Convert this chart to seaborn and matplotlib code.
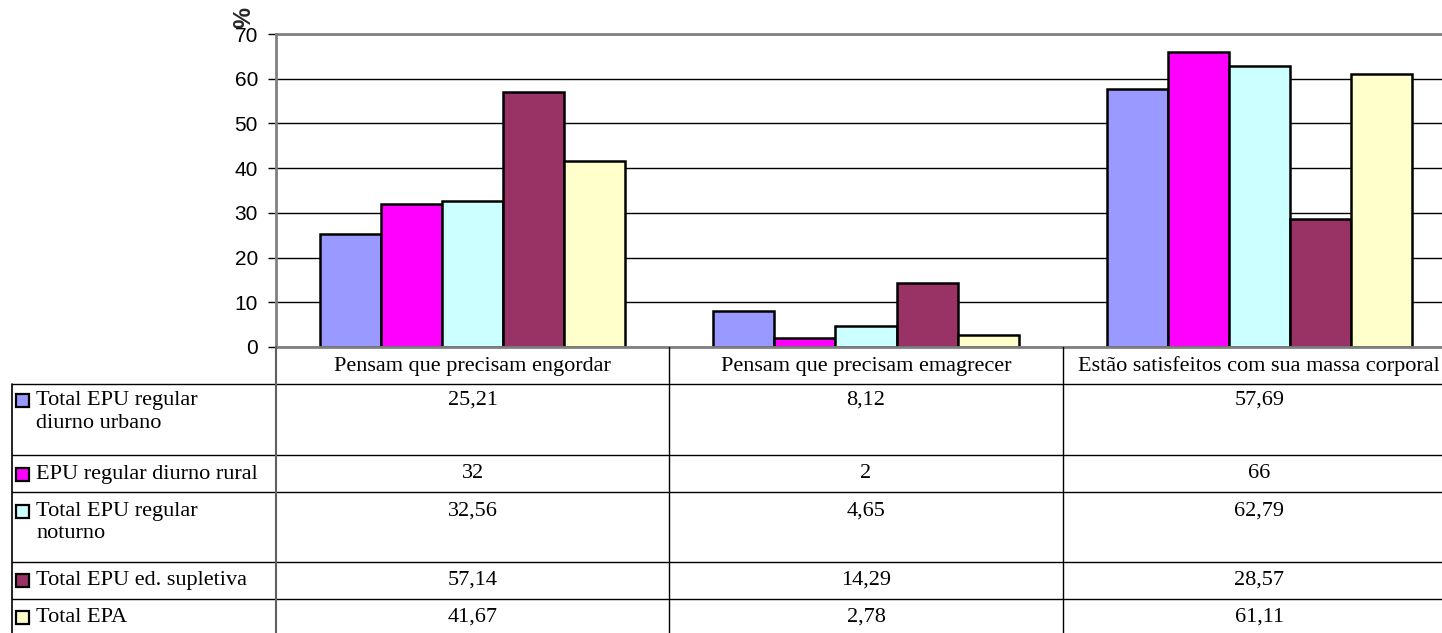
import matplotlib
matplotlib.use("Agg")
import matplotlib.pyplot as plt
import pandas as pd
import seaborn as sns
from matplotlib.patches import Rectangle

categorias = [
    "Pensam que precisam engordar",
    "Pensam que precisam emagrecer",
    "Estão satisfeitos com sua massa corporal",
]
grupos = [
    "Total EPU regular\ndiurno urbano",
    "EPU regular diurno rural",
    "Total EPU regular\nnoturno",
    "Total EPU ed. supletiva",
    "Total EPA",
]
urbano = [25.21, 8.12, 57.69]
rural = [32, 2, 66]
noturno = [32.56, 4.65, 62.79]
supletiva = [57.14, 14.29, 28.57]
epa = [41.67, 2.78, 61.11]
rotulos = [
    ["25,21", "8,12", "57,69"],
    ["32", "2", "66"],
    ["32,56", "4,65", "62,79"],
    ["57,14", "14,29", "28,57"],
    ["41,67", "2,78", "61,11"],
]
cores = ["#9999FF", "#FF00FF", "#CCFFFF", "#993366", "#FFFFCC"]

W, H = 1442, 633
SERIF = "Liberation Serif"
SANS = "Liberation Sans"

rows = []
for g, vals in zip(grupos, [urbano, rural, noturno, supletiva, epa]):
    for c, v in zip(categorias, vals):
        rows.append({"categoria": c, "grupo": g, "valor": v})
df = pd.DataFrame(rows)

sns.set_theme(style="white")
plt.rcParams["font.family"] = [SANS, "DejaVu Sans"]

fig = plt.figure(figsize=(W / 100, H / 100), dpi=100)

# plot area in pixels: x 276 -> 1456 (runs past the right edge), y 34 -> 347
cat_w = (1456 - 276) / 3
ax = fig.add_axes([276 / W, (H - 347) / H, (1456 - 276) / W, (347 - 34) / H])
sns.barplot(
    data=df, x="categoria", y="valor", hue="grupo",
    order=categorias, hue_order=grupos, palette=cores,
    width=0.776, gap=0, saturation=1,
    edgecolor="black", linewidth=1.8, legend=False, ax=ax,
)
ax.set_xlim(-0.5, 2.5)
ax.set_ylim(0, 70)
ax.set_yticks(range(0, 71, 10))
ax.set_xticks([])
ax.set_xlabel("")
ax.set_ylabel("")
ax.yaxis.grid(True, color="black", linewidth=1)
ax.set_axisbelow(True)
for s in ["left", "top", "bottom"]:
    ax.spines[s].set_color("#808080")
    ax.spines[s].set_linewidth(2)
ax.spines["right"].set_visible(False)
ax.tick_params(axis="y", left=True, length=6, width=1, color="black",
               pad=7, labelsize=15, labelcolor="black")

fig.text(244 / W, 1 - 17 / H, "%", rotation=90, ha="center", va="center",
         fontsize=17, fontweight="bold", family=[SANS])

# data table underneath
ax_t = fig.add_axes([12 / W, 0, (1456 - 12) / W, (H - 347) / H])
x0 = -0.5 - (276 - 12) / cat_w
ax_t.set_xlim(x0, 2.5)
ax_t.set_ylim(H, 347)
ax_t.axis("off")


def px(p):
    return -0.5 + (p - 276) / cat_w


row_lines = [384, 455, 492, 562, 599]
row_text = [400, 474, 511, 580, 617]
for y in row_lines:
    ax_t.plot([x0, 2.5], [y, y], color="black", lw=1, clip_on=False)
ax_t.plot([x0, x0], [384, H], color="black", lw=1.2, clip_on=False)
ax_t.plot([-0.5, -0.5], [347, H], color="#606060", lw=1.5, clip_on=False)
for b in [0.5, 1.5]:
    ax_t.plot([b, b], [347, H], color="black", lw=1, clip_on=False)

for i, c in enumerate(categorias):
    ax_t.text(i, 366, c, ha="center", va="center", fontsize=16,
              family=[SERIF], color="black")

for r, (g, cor, labs) in enumerate(zip(grupos, cores, rotulos)):
    y = row_text[r]
    ax_t.add_patch(Rectangle((px(16), y + 7), px(29) - px(16), -13,
                             facecolor=cor, edgecolor="black", lw=1.6,
                             clip_on=False))
    ax_t.text(px(36), y - 9, g, ha="left", va="top", fontsize=16,
              family=[SERIF], color="black", linespacing=1.25)
    for i, lab in enumerate(labs):
        ax_t.text(i, y, lab, ha="center", va="center", fontsize=16,
                  family=[SERIF], color="black")

fig.savefig("out.png", dpi=100)
